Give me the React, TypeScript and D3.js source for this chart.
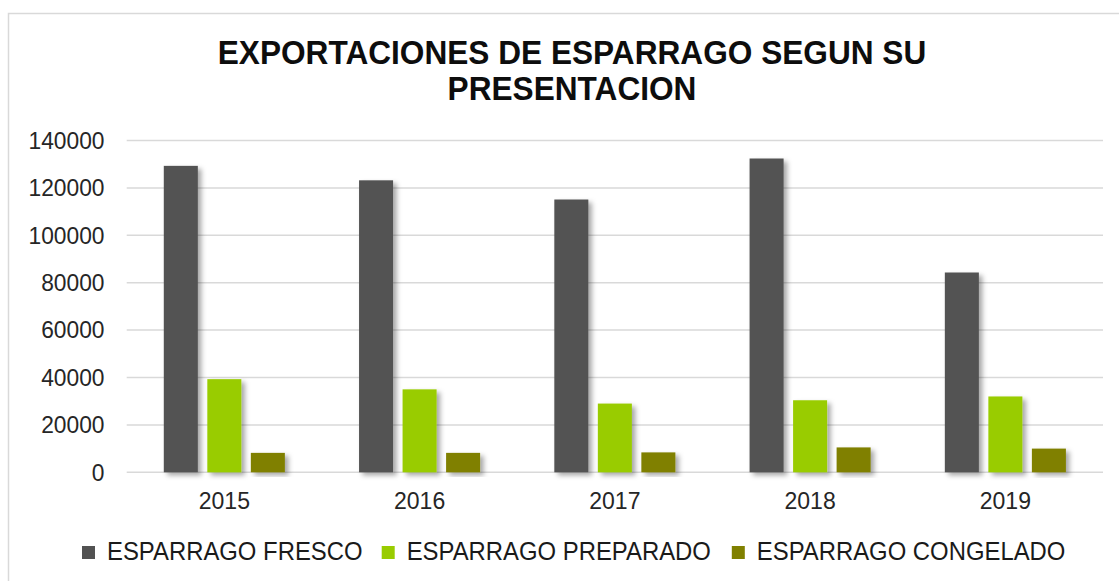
import React from "react";
import * as d3 from "d3";

const years = ["2015", "2016", "2017", "2018", "2019"];
const seriesNames = ["ESPARRAGO FRESCO", "ESPARRAGO PREPARADO", "ESPARRAGO CONGELADO"];
const fresco = [129300, 123200, 115100, 132400, 84300];
const preparado = [39300, 35000, 29000, 30400, 32000];
const congelado = [8200, 8200, 8400, 10500, 10000];
const colors = ["#525252", "#99cc00", "#808000"];
const yTicks = [0, 20000, 40000, 60000, 80000, 100000, 120000, 140000];
const titleLines = ["EXPORTACIONES DE ESPARRAGO SEGUN SU", "PRESENTACION"];

const W = 1119;
const H = 581;
const FONT = "'Liberation Sans', Arial, Helvetica, sans-serif";

export default function App() {
  const values = [fresco, preparado, congelado];
  const x0 = d3.scaleBand<string>().domain(years).range([126.7, 1103]).paddingInner(0.38).paddingOuter(0.19);
  const x1 = d3.scaleBand<string>().domain(seriesNames).range([0, x0.bandwidth()]).paddingInner(0.218).paddingOuter(0);
  const y = d3.scaleLinear().domain([0, 140000]).range([472.3, 140.5]);

  const legendX = [82, 381.7, 731.8];

  return (
    <svg width={W} height={H} style={{ position: "absolute", left: 0, top: 0, background: "#fff" }} fontFamily={FONT}>
      <defs>
        <filter id="sh" x="-30%" y="-10%" width="160%" height="130%">
          <feDropShadow dx="3.5" dy="3" stdDeviation="2.5" floodColor="#000" floodOpacity="0.35" />
        </filter>
      </defs>
      <rect x={0} y={0} width={W} height={H} fill="#fff" />
      <rect x={8.5} y={13.5} width={W + 10} height={H + 10} fill="#fff" stroke="#d9d9d9" strokeWidth={1.5} />

      {titleLines.map((t, i) => (
        <text
          key={t}
          transform={`translate(572, ${[63.5, 100][i]}) scale(0.93, 1)`}
          textAnchor="middle"
          fontSize={34}
          fontWeight="bold"
          fill="#0d0d0d"
        >
          {t}
        </text>
      ))}

      {yTicks.map((t) => (
        <g key={t}>
          <line x1={126.7} x2={1103} y1={y(t)} y2={y(t)} stroke="#d9d9d9" strokeWidth={1.5} />
          <text transform={`translate(104.5, ${y(t) + 8.3}) scale(0.95, 1)`} textAnchor="end" fontSize={24} fill="#262626">
            {t}
          </text>
        </g>
      ))}

      {years.map((yr, i) => (
        <g key={yr} transform={`translate(${x0(yr)}, 0)`}>
          {seriesNames.map((s, j) => (
            <rect
              key={s}
              x={x1(s)}
              y={y(values[j][i])}
              width={x1.bandwidth()}
              height={y(0) - y(values[j][i])}
              fill={colors[j]}
              filter="url(#sh)"
            />
          ))}
          <text
            transform={`translate(${x0.bandwidth() / 2}, 509) scale(0.98, 1)`}
            textAnchor="middle"
            fontSize={23.5}
            fill="#262626"
          >
            {yr}
          </text>
        </g>
      ))}

      {seriesNames.map((s, j) => (
        <g key={s}>
          <rect x={legendX[j]} y={546} width={13} height={13} fill={colors[j]} />
          <text transform={`translate(${legendX[j] + 25}, 560) scale(0.955, 1)`} fontSize={25} fill="#1a1a1a">
            {s}
          </text>
        </g>
      ))}
    </svg>
  );
}
